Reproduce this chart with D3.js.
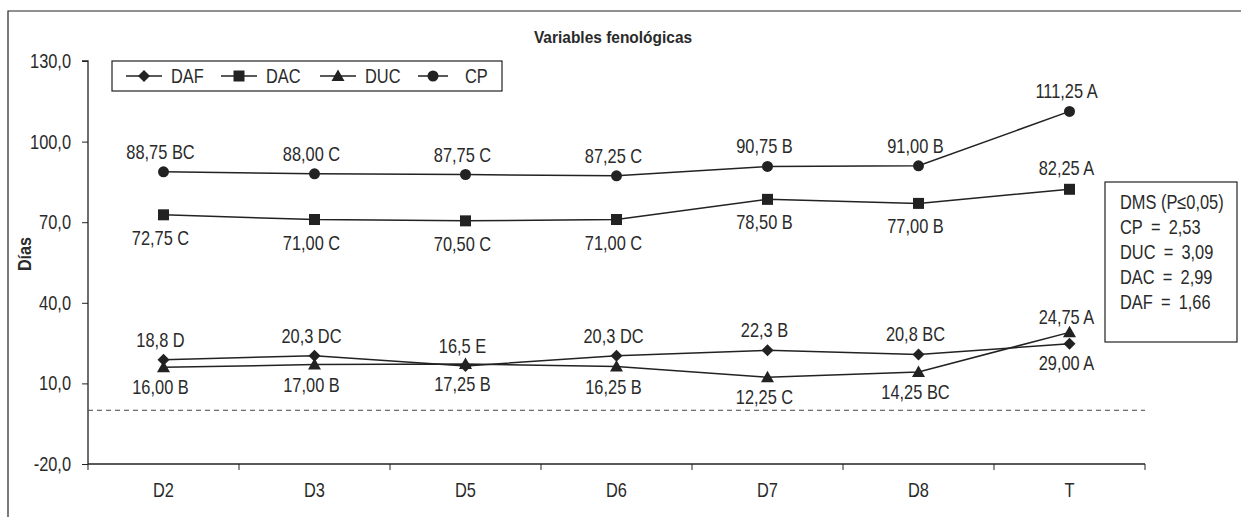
<!DOCTYPE html>
<html><head><meta charset="utf-8">
<script src="https://cdn.jsdelivr.net/npm/d3@7"></script>
<style>
body{margin:0;background:#fff;}
svg{display:block;}
text{font-family:"Liberation Sans",Arial,sans-serif;fill:#2a2a2a;}
</style></head>
<body><svg id="c" width="1241" height="517"></svg>
<script>
const categories = ["D2","D3","D5","D6","D7","D8","T"];
const yTicks = [-20,10,40,70,100,130];
const CP  = [88.75, 88.00, 87.75, 87.25, 90.75, 91.00, 111.25];
const DAC = [72.75, 71.00, 70.50, 71.00, 78.50, 77.00, 82.25];
const DAF = [18.8, 20.3, 16.5, 20.3, 22.3, 20.8, 24.75];
const DUC = [16.00, 17.00, 17.25, 16.25, 12.25, 14.25, 29.00];
const cpLabels  = ["88,75 BC","88,00 C","87,75 C","87,25 C","90,75 B","91,00 B","111,25 A"];
const dacLabels = ["72,75 C","71,00 C","70,50 C","71,00 C","78,50 B","77,00 B","82,25 A"];
const dafLabels = ["18,8 D","20,3 DC","16,5 E","20,3 DC","22,3 B","20,8 BC","29,00 A"];
const ducLabels = ["16,00 B","17,00 B","17,25 B","16,25 B","12,25 C","14,25 BC","24,75 A"];
const cpPos  = ["a","a","a","a","a","a","a"];
const dacPos = ["b","b","b","b","b","b","a"];
const dafPos = ["a","a","a","a","a","a","b"];
const ducPos = ["b","b","b","b","b","b","a"];
const legendNames = ["DAF","DAC","DUC","CP"];
const dmsLines = ["DMS (P\u22640,05)","CP\u2002=\u20022,53","DUC\u2002=\u20023,09","DAC\u2002=\u20022,99","DAF\u2002=\u20021,66"];
const chartTitle = "Variables fenológicas";
const yTitle = "Días";

(function(){
const svg = d3.select("#c");
const ink = "#222";
const FS = "20px";
const K = 0.82;
const pL = 88, pR = 1145, pT = 61, pB = 464;
const x = d3.scaleBand().domain(categories).range([pL, pR]).padding(0);
const y = d3.scaleLinear().domain([-20,130]).range([pB, pT]);
const f1 = d3.formatLocale({decimal:",", thousands:".", grouping:[3], currency:["",""]}).format(".1f");
const fmt = d => f1(d).replace("\u2212","-");

// outer frame
svg.append("path").attr("d", `M8,517V11H1241`).attr("fill","none").attr("stroke",ink).attr("stroke-width",1.2);

// titles
svg.append("text").attr("class","ttl").attr("x",613).attr("y",43).attr("text-anchor","middle")
  .style("font-weight","bold").style("font-size","17px").text(chartTitle);
svg.append("text").attr("class","noscale").attr("transform","translate(31,254) rotate(-90) scale(0.9,1)").attr("text-anchor","middle")
  .style("font-weight","bold").style("font-size","18px").text(yTitle);

// y axis
const ya = svg.append("g").attr("transform",`translate(${pL},0)`)
  .call(d3.axisLeft(y).tickValues(yTicks).tickFormat(fmt).tickSize(6).tickPadding(11));
ya.select(".domain").attr("stroke",ink).attr("stroke-width",1.3).attr("d",`M-6,${y(130)}H0V${pB}`);
ya.selectAll(".tick line").attr("stroke",ink);
ya.selectAll("text").style("font-size",FS).style("font-family",'"Liberation Sans",Arial,sans-serif').attr("fill","#2a2a2a");

// x axis
const xa = svg.append("g").attr("transform",`translate(0,${pB})`)
  .call(d3.axisBottom(x).tickSize(0).tickPadding(19));
xa.select(".domain").attr("stroke",ink).attr("stroke-width",1.3).attr("d",`M${pL},0H${pR}`);
xa.selectAll("text").style("font-size",FS).style("font-family",'"Liberation Sans",Arial,sans-serif').attr("fill","#2a2a2a");
const bounds = categories.map(c => x(c)).concat([x.range()[1]]);
xa.selectAll(".bt").data(bounds).enter().append("line").attr("class","bt")
  .attr("x1",d=>d).attr("x2",d=>d).attr("y1",0).attr("y2",6).attr("stroke",ink);

// zero dashed line
svg.append("line").attr("x1",pL).attr("x2",pR).attr("y1",y(0)).attr("y2",y(0))
  .attr("stroke","#444").attr("stroke-dasharray","5,4").attr("stroke-width",1);

const cx = c => x(c) + x.bandwidth()/2;
const line = d3.line().x((d,i)=>cx(categories[i])).y(d=>y(d));

function marker(g, kind, px, py){
  if(kind==="circle") g.append("circle").attr("cx",px).attr("cy",py).attr("r",5.5).attr("fill",ink);
  else if(kind==="square") g.append("rect").attr("x",px-5.5).attr("y",py-5.5).attr("width",11).attr("height",11).attr("fill",ink);
  else if(kind==="diamond") g.append("path").attr("d",`M${px},${py-6}L${px+6},${py}L${px},${py+6}L${px-6},${py}Z`).attr("fill",ink);
  else g.append("path").attr("d",`M${px},${py-6.5}L${px+6.5},${py+5}L${px-6.5},${py+5}Z`).attr("fill",ink);
}

const series = [
  {vals:DAF, kind:"diamond", labels:dafLabels, pos:dafPos, up:-20, down:19},
  {vals:DUC, kind:"triangle", labels:ducLabels, pos:ducPos, up:-15, down:20},
  {vals:DAC, kind:"square", labels:dacLabels, pos:dacPos, up:-21, down:23},
  {vals:CP, kind:"circle", labels:cpLabels, pos:cpPos, up:-20, down:20},
];
series.forEach(s=>{
  const g = svg.append("g");
  g.append("path").datum(s.vals).attr("d",line).attr("fill","none").attr("stroke",ink).attr("stroke-width",1.5);
  s.vals.forEach((v,i)=>marker(g, s.kind, cx(categories[i]), y(v)));
  g.selectAll("text.lbl").data(s.vals).enter().append("text").attr("class","lbl")
    .attr("x",(d,i)=>cx(categories[i]) - 3)
    .attr("y",(d,i)=>y(d) + (s.pos[i]==="a" ? s.up : s.down))
    .attr("dy","0.35em").attr("text-anchor","middle").style("font-size",FS)
    .text((d,i)=>s.labels[i]);
});

// legend
const lg = svg.append("g");
lg.append("rect").attr("x",112).attr("y",61).attr("width",390).attr("height",30).attr("fill","#fff").attr("stroke",ink).attr("stroke-width",1.2);
const legKinds = {DAF:"diamond",DAC:"square",DUC:"triangle",CP:"circle"};
const legX = [126, 221, 320, 418];
const legTextX = [171, 266, 365, 465];
legendNames.forEach((n,i)=>{
  const lx = legX[i], w = (i===3?30:36);
  lg.append("line").attr("x1",lx).attr("x2",lx+w).attr("y1",76).attr("y2",76).attr("stroke",ink).attr("stroke-width",1.5);
  marker(lg, legKinds[n], lx+w/2, 76);
  lg.append("text").attr("x",legTextX[i]).attr("y",76).attr("dy","0.35em").style("font-size",FS).text(n);
});

// DMS box
const db = svg.append("g");
db.append("rect").attr("x",1105).attr("y",182).attr("width",132).attr("height",160).attr("fill","#fff").attr("stroke",ink).attr("stroke-width",1.2);
db.selectAll("text").data(dmsLines).enter().append("text")
  .attr("x",1120).attr("y",(d,i)=>202 + i*25).attr("dy","0.35em").style("font-size",FS)
  .text(d=>d);

// condense text horizontally (reference uses a condensed face)
svg.selectAll("text").each(function(){
  const t = d3.select(this);
  if (t.classed("noscale")) return;
  const k = t.classed("ttl") ? 0.91 : K;
  const xx = +t.attr("x") || 0;
  t.attr("transform", `translate(${xx},0) scale(${k},1) translate(${-xx},0)`);
});
})();
</script></body></html>
